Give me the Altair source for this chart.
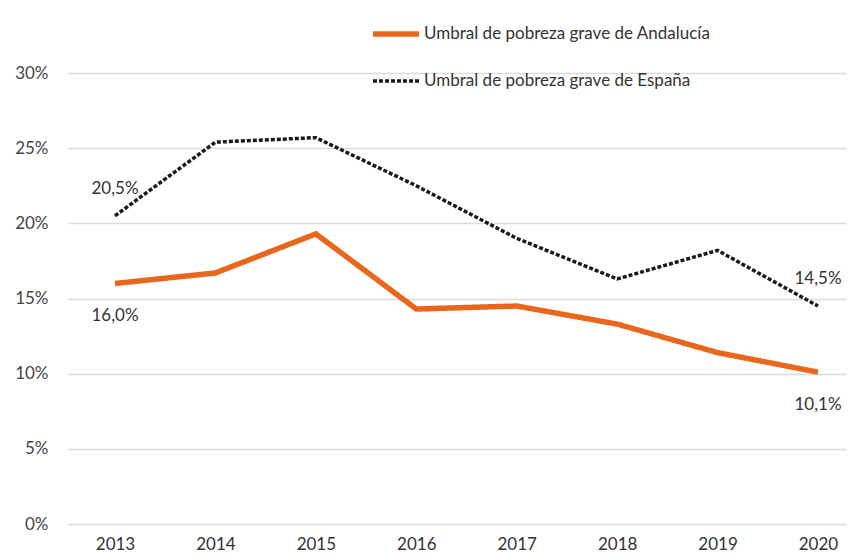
import altair as alt
import pandas as pd

years = [2013, 2014, 2015, 2016, 2017, 2018, 2019, 2020]
andalucia = [16.0, 16.7, 19.3, 14.3, 14.5, 13.3, 11.4, 10.1]
espana = [20.5, 25.4, 25.7, 22.5, 19.0, 16.3, 18.2, 14.5]
series_names = ["Umbral de pobreza grave de Andalucía", "Umbral de pobreza grave de España"]
label_years_above = [2013, 2020]
label_values_above = [20.5, 14.5]
label_texts_above = ["20,5%", "14,5%"]
label_years_below = [2013, 2020]
label_values_below = [16.0, 10.1]
label_texts_below = ["16,0%", "10,1%"]
y_ticks = [0, 5, 10, 15, 20, 25, 30]

FONT = "Lato"
FS = 17
rows = []
for y, a, e in zip(years, andalucia, espana):
    rows.append({"year": y, "value": a, "serie": series_names[0]})
    rows.append({"year": y, "value": e, "serie": series_names[1]})
df = pd.DataFrame(rows)
above = pd.DataFrame({"year": label_years_above, "value": label_values_above, "text": label_texts_above})
below = pd.DataFrame({"year": label_years_below, "value": label_values_below, "text": label_texts_below})

xscale = alt.Scale(domain=[2012.532, 2020.289], nice=False, zero=False)
yscale = alt.Scale(domain=[0, 30], nice=False)

xaxis = alt.Axis(values=years, format="d", title=None, grid=False, ticks=False,
                 domain=False, labelPadding=12, labelFontSize=FS, labelFont=FONT,
                 labelColor="#333333")
yaxis = alt.Axis(values=y_ticks, labelExpr="datum.value + '%'", title=None,
                 grid=True, gridColor="#DCDCDC", gridWidth=1.5, ticks=False,
                 domain=False, labelPadding=20, labelFontSize=FS, labelFont=FONT,
                 labelColor="#444444")

legend_cfg = dict(title=None, orient="none", legendX=302, legendY=-65,
                  symbolType="stroke", symbolSize=2116, symbolStrokeWidth=4,
                  labelFontSize=FS, labelFont=FONT, labelColor="#333333", labelLimit=500,
                  labelOffset=2, rowPadding=11, direction="vertical")

lines = alt.Chart(df).mark_line(strokeCap="butt", strokeJoin="miter").encode(
    x=alt.X("year:Q", scale=xscale, axis=xaxis),
    y=alt.Y("value:Q", scale=yscale, axis=yaxis),
    color=alt.Color("serie:N", scale=alt.Scale(domain=series_names, range=["#E8671C", "#1a1a1a"]),
                    legend=alt.Legend(**legend_cfg)),
    strokeDash=alt.StrokeDash("serie:N", scale=alt.Scale(domain=series_names, range=[[1, 0], [4, 2]]),
                              legend=alt.Legend(**legend_cfg)),
    strokeWidth=alt.StrokeWidth("serie:N", scale=alt.Scale(domain=series_names, range=[5.5, 3.5]), legend=None),
)

t_above = alt.Chart(above).mark_text(dy=-27, fontSize=FS, font=FONT, color="#333333").encode(
    x=alt.X("year:Q", scale=xscale, axis=xaxis), y=alt.Y("value:Q", scale=yscale, axis=yaxis), text="text:N")
t_below = alt.Chart(below).mark_text(dy=33, fontSize=FS, font=FONT, color="#333333").encode(
    x=alt.X("year:Q", scale=xscale, axis=xaxis), y=alt.Y("value:Q", scale=yscale, axis=yaxis), text="text:N")

chart = alt.layer(lines, t_above, t_below).properties(
    width=779, height=451,
    background="white",
    autosize=alt.AutoSizeParams(type="none"),
    padding={"left": 60, "top": 65, "right": 0, "bottom": 28},
).configure_view(stroke=None).configure_axis(domain=False, ticks=False)

chart.save("out.html", embed_options={"renderer": "svg", "actions": False})
